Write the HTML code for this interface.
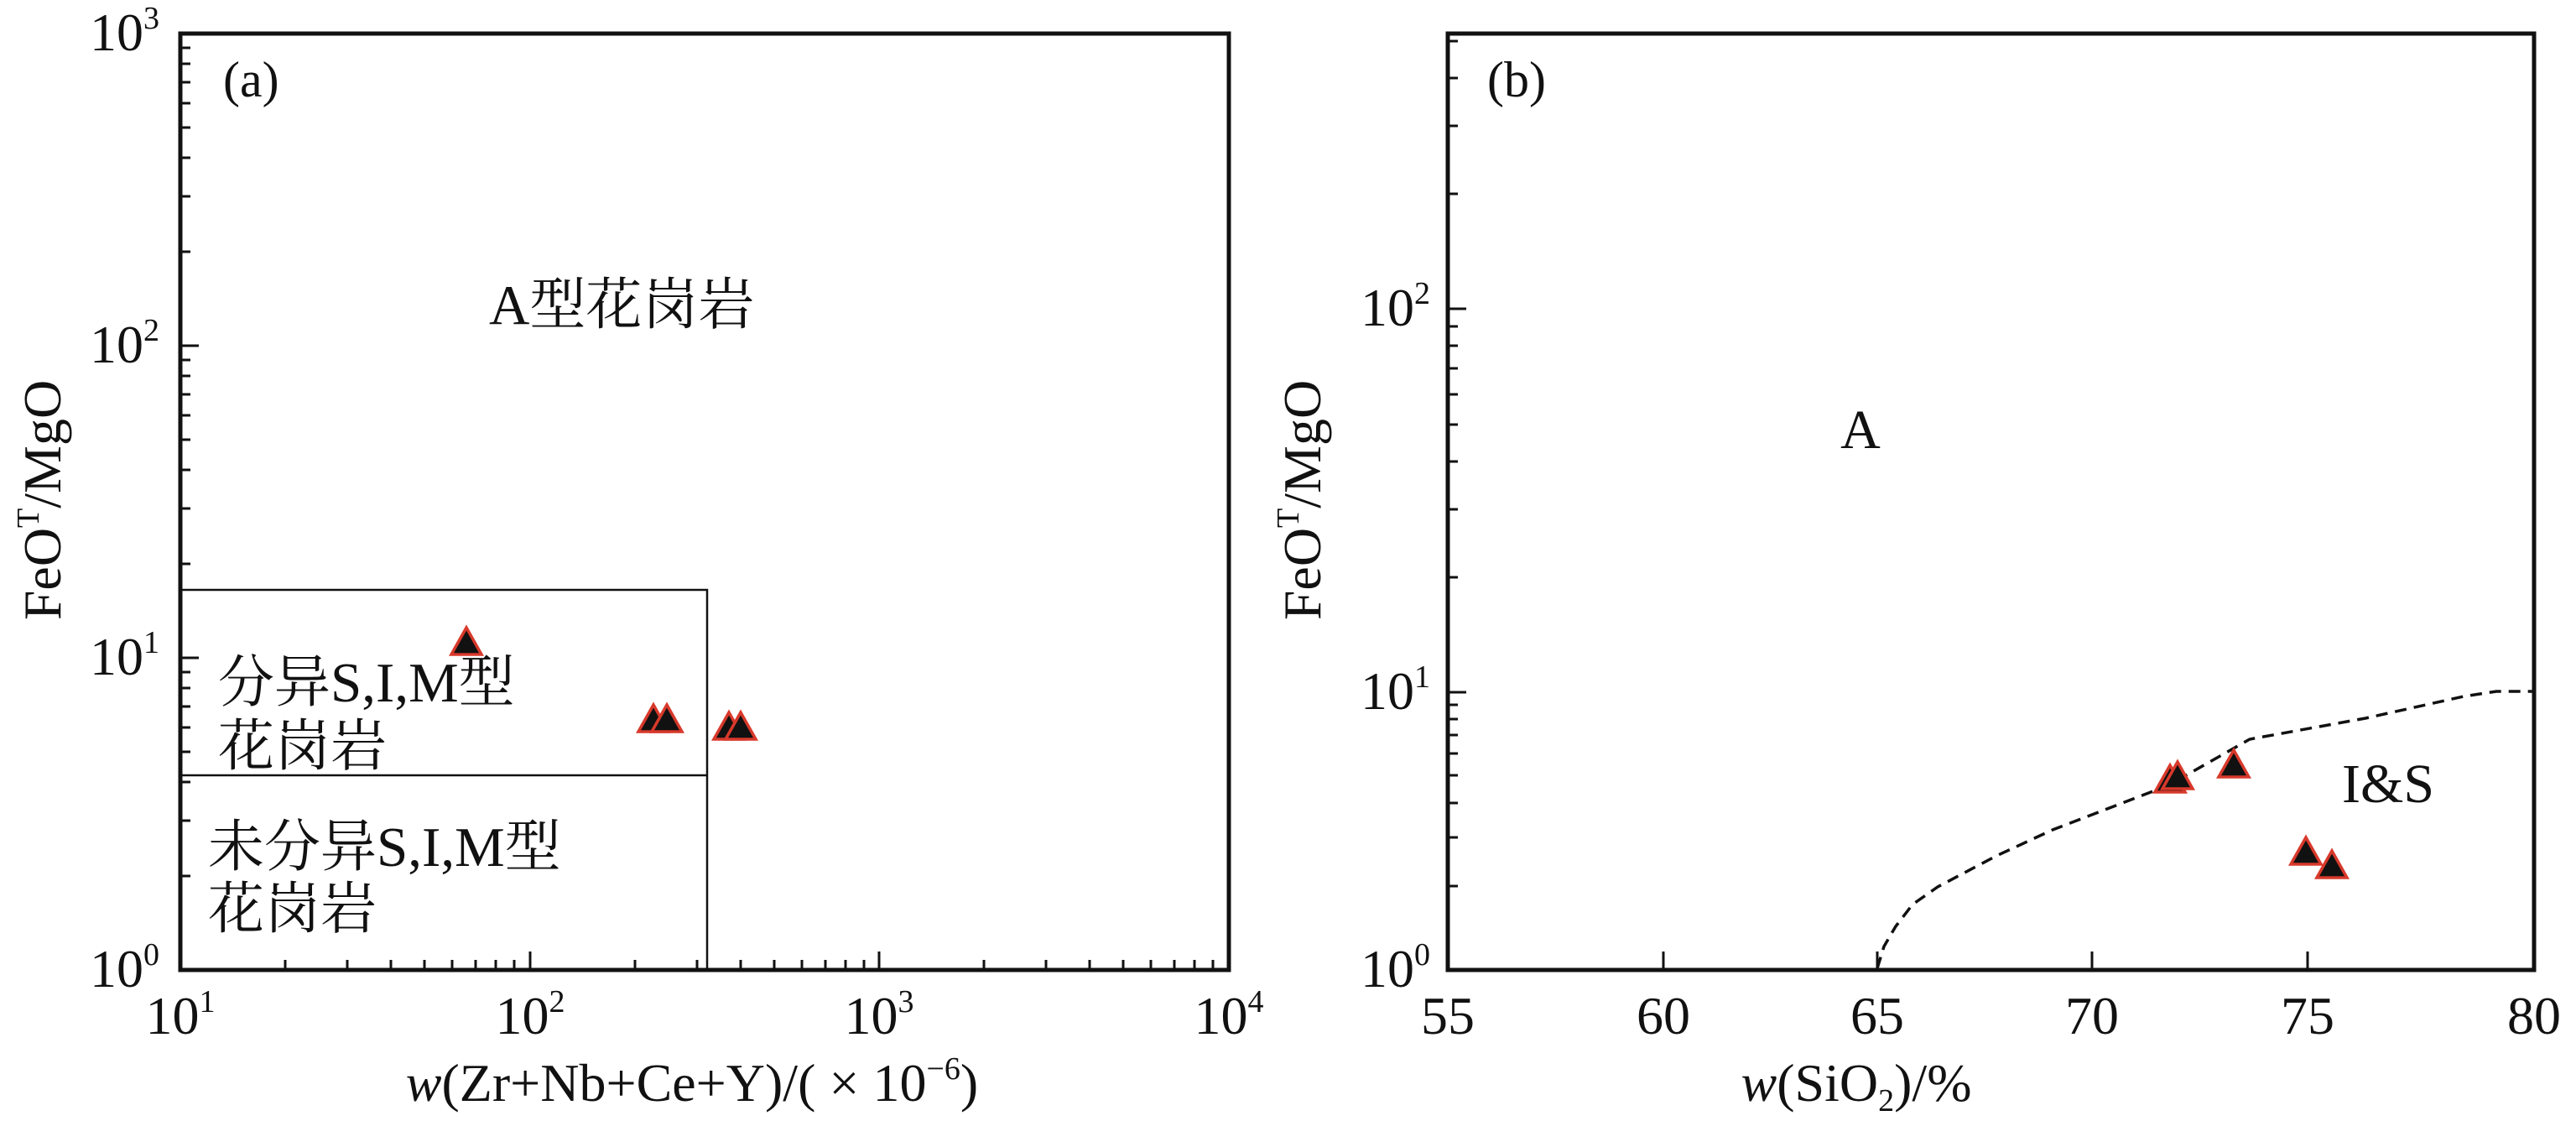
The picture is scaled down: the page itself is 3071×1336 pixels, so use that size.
<!DOCTYPE html>
<html><head><meta charset="utf-8"><style>
html,body{margin:0;padding:0;background:#fff;}
svg{display:block;}
text{font-family:"Liberation Serif","Noto Serif CJK SC","Noto Sans CJK SC",serif;fill:#111;}
</style></head><body>
<svg width="3071" height="1336" viewBox="0 0 3071 1336" xmlns="http://www.w3.org/2000/svg">
<!-- Panel a -->
<g stroke="#111" fill="none">
<rect x="215" y="40" width="1250" height="1116" stroke-width="5"/>
<polyline points="215,703 843,703 843,1156" stroke-width="2.5"/>
<line x1="215" y1="924" x2="843" y2="924" stroke-width="2.5"/>
</g>
<g stroke="#111" stroke-width="3">
<line x1="215" y1="1156" x2="237" y2="1156"/><line x1="215" y1="784" x2="237" y2="784"/><line x1="215" y1="412" x2="237" y2="412"/>
<line x1="215" y1="1044" x2="227" y2="1044"/><line x1="215" y1="978" x2="227" y2="978"/><line x1="215" y1="932" x2="227" y2="932"/><line x1="215" y1="896" x2="227" y2="896"/><line x1="215" y1="867" x2="227" y2="867"/><line x1="215" y1="842" x2="227" y2="842"/><line x1="215" y1="820" x2="227" y2="820"/><line x1="215" y1="801" x2="227" y2="801"/>
<line x1="215" y1="672" x2="227" y2="672"/><line x1="215" y1="606" x2="227" y2="606"/><line x1="215" y1="560" x2="227" y2="560"/><line x1="215" y1="524" x2="227" y2="524"/><line x1="215" y1="495" x2="227" y2="495"/><line x1="215" y1="470" x2="227" y2="470"/><line x1="215" y1="448" x2="227" y2="448"/><line x1="215" y1="429" x2="227" y2="429"/>
<line x1="215" y1="300" x2="227" y2="300"/><line x1="215" y1="234" x2="227" y2="234"/><line x1="215" y1="188" x2="227" y2="188"/><line x1="215" y1="152" x2="227" y2="152"/><line x1="215" y1="123" x2="227" y2="123"/><line x1="215" y1="98" x2="227" y2="98"/><line x1="215" y1="76" x2="227" y2="76"/><line x1="215" y1="57" x2="227" y2="57"/>
<line x1="632" y1="1156" x2="632" y2="1134"/><line x1="1048" y1="1156" x2="1048" y2="1134"/>
<line x1="340" y1="1156" x2="340" y2="1144"/><line x1="414" y1="1156" x2="414" y2="1144"/><line x1="466" y1="1156" x2="466" y2="1144"/><line x1="506" y1="1156" x2="506" y2="1144"/><line x1="539" y1="1156" x2="539" y2="1144"/><line x1="567" y1="1156" x2="567" y2="1144"/><line x1="591" y1="1156" x2="591" y2="1144"/><line x1="613" y1="1156" x2="613" y2="1144"/>
<line x1="757" y1="1156" x2="757" y2="1144"/><line x1="831" y1="1156" x2="831" y2="1144"/><line x1="883" y1="1156" x2="883" y2="1144"/><line x1="923" y1="1156" x2="923" y2="1144"/><line x1="956" y1="1156" x2="956" y2="1144"/><line x1="984" y1="1156" x2="984" y2="1144"/><line x1="1008" y1="1156" x2="1008" y2="1144"/><line x1="1030" y1="1156" x2="1030" y2="1144"/>
<line x1="1173" y1="1156" x2="1173" y2="1144"/><line x1="1247" y1="1156" x2="1247" y2="1144"/><line x1="1299" y1="1156" x2="1299" y2="1144"/><line x1="1339" y1="1156" x2="1339" y2="1144"/><line x1="1372" y1="1156" x2="1372" y2="1144"/><line x1="1400" y1="1156" x2="1400" y2="1144"/><line x1="1424" y1="1156" x2="1424" y2="1144"/><line x1="1446" y1="1156" x2="1446" y2="1144"/>
</g>
<g font-size="64" text-anchor="end">
<text x="190" y="1176">10<tspan font-size="38" dy="-26">0</tspan></text>
<text x="190" y="804">10<tspan font-size="38" dy="-26">1</tspan></text>
<text x="190" y="432">10<tspan font-size="38" dy="-26">2</tspan></text>
<text x="190" y="60">10<tspan font-size="38" dy="-26">3</tspan></text>
</g>
<g font-size="64" text-anchor="middle">
<text x="215" y="1232">10<tspan font-size="38" dy="-26">1</tspan></text>
<text x="632" y="1232">10<tspan font-size="38" dy="-26">2</tspan></text>
<text x="1048" y="1232">10<tspan font-size="38" dy="-26">3</tspan></text>
<text x="1465" y="1232">10<tspan font-size="38" dy="-26">4</tspan></text>
<text x="825" y="1312"><tspan font-style="italic">w</tspan>(Zr+Nb+Ce+Y)/( × 10<tspan font-size="38" dy="-26">−6</tspan><tspan dy="26">)</tspan></text>
</g>
<text transform="translate(72,596) rotate(-90)" font-size="64" text-anchor="middle">FeO<tspan font-size="38" dy="-26">T</tspan><tspan dy="26">/MgO</tspan></text>
<g font-size="60">
<text x="266" y="115">(a)</text>
</g>
<g font-size="67">
<text x="583" y="386">A型花岗岩</text>
<text x="260" y="836">分异S,I,M型</text>
<text x="260" y="912">花岗岩</text>
<text x="248" y="1032">未分异S,I,M型</text>
<text x="248" y="1106">花岗岩</text>
</g>
<g fill="#111" stroke="#d8392b" stroke-width="3.5">
<polygon points="556,748 574,780 538,780"/>
<polygon points="779,840 797,872 761,872"/>
<polygon points="795,840 813,872 777,872"/>
<polygon points="869,849 887,881 851,881"/>
<polygon points="883,849 901,881 865,881"/>
</g>

<!-- Panel b -->
<rect x="1726" y="40" width="1295" height="1116" stroke="#111" stroke-width="5" fill="none"/>
<g stroke="#111" stroke-width="3">
<line x1="1726" y1="825" x2="1748" y2="825"/><line x1="1726" y1="368" x2="1748" y2="368"/>
<line x1="1726" y1="1056" x2="1738" y2="1056"/><line x1="1726" y1="998" x2="1738" y2="998"/><line x1="1726" y1="957" x2="1738" y2="957"/><line x1="1726" y1="924" x2="1738" y2="924"/><line x1="1726" y1="898" x2="1738" y2="898"/><line x1="1726" y1="876" x2="1738" y2="876"/><line x1="1726" y1="857" x2="1738" y2="857"/><line x1="1726" y1="840" x2="1738" y2="840"/>
<line x1="1726" y1="688" x2="1738" y2="688"/><line x1="1726" y1="607" x2="1738" y2="607"/><line x1="1726" y1="550" x2="1738" y2="550"/><line x1="1726" y1="506" x2="1738" y2="506"/><line x1="1726" y1="470" x2="1738" y2="470"/><line x1="1726" y1="439" x2="1738" y2="439"/><line x1="1726" y1="412" x2="1738" y2="412"/><line x1="1726" y1="389" x2="1738" y2="389"/>
<line x1="1726" y1="231" x2="1738" y2="231"/><line x1="1726" y1="150" x2="1738" y2="150"/><line x1="1726" y1="93" x2="1738" y2="93"/><line x1="1726" y1="49" x2="1738" y2="49"/>
<line x1="1983" y1="1156" x2="1983" y2="1134"/><line x1="2238" y1="1156" x2="2238" y2="1134"/><line x1="2494" y1="1156" x2="2494" y2="1134"/><line x1="2751" y1="1156" x2="2751" y2="1134"/>
</g>
<polyline points="2238,1154 2246,1128 2260,1104 2280,1078 2310,1057 2380,1020 2447,989 2585,936 2682,881 2820,856 2937,830 2976,824 3021,824" fill="none" stroke="#111" stroke-width="3.5" stroke-dasharray="14,9"/>
<g font-size="64" text-anchor="end">
<text x="1705" y="1176">10<tspan font-size="38" dy="-26">0</tspan></text>
<text x="1705" y="845">10<tspan font-size="38" dy="-26">1</tspan></text>
<text x="1705" y="388">10<tspan font-size="38" dy="-26">2</tspan></text>
</g>
<g font-size="64" text-anchor="middle">
<text x="1726" y="1232">55</text><text x="1983" y="1232">60</text><text x="2238" y="1232">65</text><text x="2494" y="1232">70</text><text x="2751" y="1232">75</text><text x="3021" y="1232">80</text>
<text x="2213" y="1312"><tspan font-style="italic">w</tspan>(SiO<tspan font-size="38" dy="12">2</tspan><tspan dy="-12">)/%</tspan></text>
</g>
<text transform="translate(1574,596) rotate(-90)" font-size="64" text-anchor="middle">FeO<tspan font-size="38" dy="-26">T</tspan><tspan dy="26">/MgO</tspan></text>
<g font-size="60">
<text x="1773" y="115">(b)</text>
</g>
<g font-size="66">
<text x="2218" y="534" text-anchor="middle">A</text>
<text x="2792" y="956">I&amp;S</text>
</g>
<g fill="#111" stroke="#d8392b" stroke-width="3.5">
<polygon points="2587,912 2605,944 2569,944"/>
<polygon points="2596,908 2614,940 2578,940"/>
<polygon points="2663,894 2681,926 2645,926"/>
<polygon points="2749,998 2767,1030 2731,1030"/>
<polygon points="2780,1014 2798,1046 2762,1046"/>
</g>
</svg>
</body></html>
